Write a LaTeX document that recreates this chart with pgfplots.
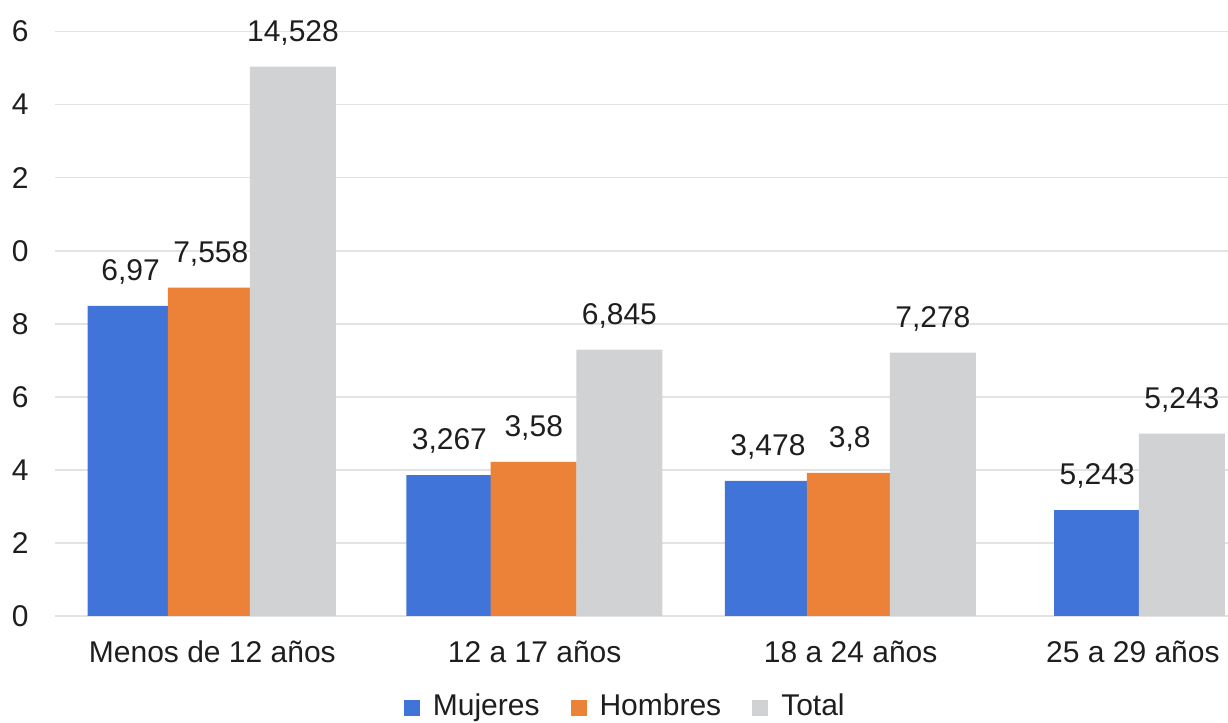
\documentclass[border=0pt]{standalone}
\usepackage{fontspec}
\setmainfont{Liberation Sans}
\usepackage{pgfplots}
\usepackage{pgfplotstable}
\pgfplotsset{compat=1.18}

\definecolor{mujer}{HTML}{4074D8}
\definecolor{hombre}{HTML}{EC8238}
\definecolor{totalgris}{HTML}{D1D2D3}
\definecolor{rejilla}{HTML}{E3E3E3}
\definecolor{texto}{HTML}{1E1E1E}

% x: bar centre (groups at 0, 1.02, 2.02, 2.91), y: bar height, etiqueta: printed label
\pgfplotstableread{
x      y     etiqueta
-0.259 8.49  6,97
0.750  3.86  3,267
1.758  3.70  3,478
2.800  2.90  5,243
}\mujeres

\pgfplotstableread{
x      y     etiqueta
-0.005 8.99  7,558
1.017  4.22  3,58
2.017  3.92  3,8
}\hombres

\pgfplotstableread{
x      y     etiqueta
0.255  15.04 14,528
1.288  7.29  6,845
2.280  7.21  7,278
3.068  4.99  5,243
}\total

\newcommand{\letra}{\fontsize{15}{18}\selectfont}

\begin{document}
\begin{tikzpicture}
\useasboundingbox (0,0) rectangle (614pt,361.5pt);
\begin{axis}[
  at={(27.5pt,53.5pt)}, anchor=south west,
  scale only axis, width=586.5pt, height=292.2pt,
  xmin=-0.498, xmax=3.214, ymin=0, ymax=16,
  axis line style={draw=none},
  major tick length=0pt,
  ymajorgrids, grid style={rejilla, line width=0.8pt},
  ytick={0,2,...,16},
  yticklabels={0,2,4,6,8,0,2,4,6},
  xtick={0,1.02,2.02,2.913},
  xticklabels={Menos de 12 años, 12 a 17 años, 18 a 24 años, 25 a 29 años},
  tick label style={font=\letra, text=texto},
  yticklabel style={anchor=east, inner sep=0pt, xshift=-13pt},
  xticklabel style={anchor=base, inner sep=0pt, yshift=-23.5pt},
  ybar, bar width=43pt, bar shift=0pt,
  clip=false,
  point meta=explicit symbolic,
  nodes near coords,
  every node near coord/.append style={anchor=base, yshift=12.75pt, font=\letra, text=texto, inner sep=0pt},
  legend columns=3,
  legend image code/.code={\fill[#1] (0pt,0pt) rectangle (8pt,8pt);},
  legend style={at={(0.487,-0.1836)}, anchor=south, draw=none, fill=none,
    inner sep=0pt, font=\letra, text=texto,
    cells={anchor=base west, inner sep=0pt},
    /tikz/every odd column/.append style={column sep=4.5pt},
    /tikz/every even column/.append style={column sep=13.5pt}},
]
\addplot[fill=mujer, draw=none, bar shift=0pt] table[x=x, y=y, meta=etiqueta] {\mujeres};
\addplot[fill=hombre, draw=none, bar shift=0pt] table[x=x, y=y, meta=etiqueta] {\hombres};
\addplot[fill=totalgris, draw=none, bar shift=0pt] table[x=x, y=y, meta=etiqueta] {\total};
\legend{Mujeres, Hombres, Total}
\end{axis}
\end{tikzpicture}
\end{document}
